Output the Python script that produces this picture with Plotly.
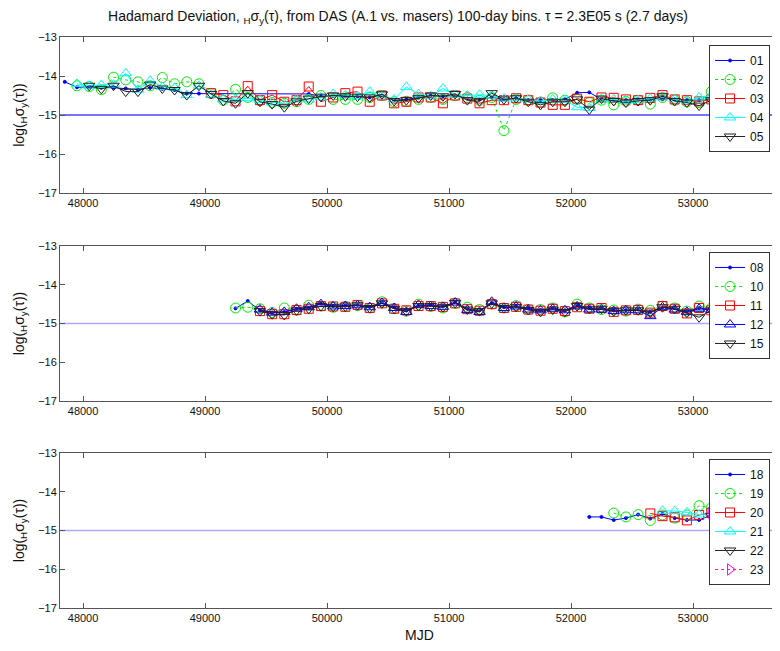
import plotly.graph_objects as go

# ---------------- data ----------------
MJD_BINS = [47850, 47950, 48050, 48150, 48250, 48350, 48450, 48550, 48650, 48750,
            48850, 48950, 49050, 49150, 49250, 49350, 49450, 49550, 49650, 49750,
            49850, 49950, 50050, 50150, 50250, 50350, 50450, 50550, 50650, 50750,
            50850, 50950, 51050, 51150, 51250, 51350, 51450, 51550, 51650, 51750,
            51850, 51950, 52050, 52150, 52250, 52350, 52450, 52550, 52650, 52750,
            52850, 52950, 53050, 53150, 53250]

# panel 1 (start bin, values)
s01_start = 47850
s01 = [-14.15, -14.29, -14.28, -14.30, -14.30, -14.32, -14.35, -14.30, -14.33, -14.36,
       -14.45, -14.45, None, None, None, None, None, None, None, None,
       -14.46, -14.52, -14.50, -14.52, -14.52, -14.55, -14.50, -14.62, -14.60, -14.55,
       -14.50, -14.52, -14.50, -14.58, -14.60, -14.55, -14.60, -14.57, -14.62, -14.62,
       -14.62, -14.60, -14.43, -14.42, -14.60, -14.62, -14.62, -14.60, -14.60, -14.55,
       -14.60, -14.62, -14.62, -14.58, -14.55]
s02_start = 47950
s02 = [-14.25, -14.27, -14.35, -14.03, -14.10, -14.15, -14.25, -14.04, -14.20, -14.15,
       -14.20, -14.45, -14.62, -14.34, -14.55, -14.63, -14.68, -14.70, -14.66, -14.60,
       -14.50, -14.60, -14.60, -14.60, -14.55, -14.50, -14.66, -14.65, -14.60, -14.55,
       -14.60, -14.50, -14.55, -14.62, -14.55, -15.40, -14.60, -14.62, -14.68, -14.56,
       -14.62, -14.60, -14.68, -14.62, -14.74, -14.65, -14.62, -14.72, -14.55, -14.62,
       -14.66, -14.68, -14.40, -14.50]
s03_start = 49050
s03 = [-14.44, -14.49, -14.65, -14.26, -14.62, -14.49, -14.66, -14.62, -14.27, -14.66,
       -14.55, -14.44, -14.40, -14.66, -14.50, -14.70, -14.66, -14.55, -14.55, -14.70,
       -14.50, -14.58, -14.70, -14.62, -14.62, -14.57, -14.62, -14.68, -14.74, -14.74,
       -14.58, -14.66, -14.55, -14.56, -14.60, -14.62, -14.56, -14.49, -14.60, -14.62,
       -14.65, -14.60, -14.55]
s04_start = 47950
s04 = [-14.20, -14.25, -14.23, -14.22, -13.93, -14.35, -14.12, -14.28, -14.30, -14.49,
       -14.25, -14.48, -14.60, -14.60, -14.57, -14.62, -14.68, -14.72, -14.60, -14.60,
       -14.55, -14.46, -14.50, -14.52, -14.40, -14.50, -14.60, -14.28, -14.47, -14.52,
       -14.32, -14.48, -14.50, -14.48, -14.50, -14.58, -14.58, -14.60, -14.64, -14.60,
       -14.62, -14.80, -14.82, -14.60, -14.60, -14.64, -14.62, -14.58, -14.55, -14.60,
       -14.65, -14.55, -14.50, -14.55]
s05_start = 48050
s05 = [-14.25, -14.33, -14.25, -14.40, -14.40, -14.22, -14.32, -14.36, -14.49, -14.25,
       -14.46, -14.64, -14.70, -14.44, -14.66, -14.72, -14.80, -14.65, -14.58, -14.53,
       -14.50, -14.52, -14.53, -14.55, -14.47, -14.64, -14.62, -14.57, -14.50, -14.52,
       -14.46, -14.62, -14.65, -14.44, -14.60, -14.57, -14.66, -14.74, -14.66, -14.66,
       -14.60, -14.86, -14.58, -14.64, -14.68, -14.64, -14.62, -14.52, -14.64, -14.68,
       -14.76, -14.62, -14.60]

# panel 2
s08_start = 49250
s08 = [-14.61, -14.42, -14.66, -14.72, -14.70, -14.62, -14.60, -14.48, -14.55, -14.54,
       -14.52, -14.57, -14.45, -14.58, -14.66, -14.53, -14.52, -14.56, -14.45, -14.62,
       -14.66, -14.48, -14.58, -14.55, -14.60, -14.65, -14.60, -14.66, -14.52, -14.60,
       -14.60, -14.66, -14.66, -14.64, -14.70, -14.58, -14.60, -14.68, -14.60, -14.64]
s10_start = 49250
s10 = [-14.60, -14.58, -14.62, -14.72, -14.60, -14.66, -14.53, -14.55, -14.58, -14.56,
       -14.54, -14.60, -14.44, -14.62, -14.68, -14.50, -14.56, -14.60, -14.48, -14.58,
       -14.64, -14.50, -14.60, -14.54, -14.64, -14.64, -14.60, -14.70, -14.50, -14.60,
       -14.64, -14.65, -14.68, -14.63, -14.66, -14.55, -14.60, -14.68, -14.55, -14.60]
s11_start = 49450
s11 = [-14.68, -14.76, -14.76, -14.65, -14.62, -14.55, -14.56, -14.57, -14.52, -14.60,
       -14.48, -14.62, -14.66, -14.55, -14.55, -14.57, -14.48, -14.63, -14.67, -14.50,
       -14.60, -14.57, -14.64, -14.67, -14.62, -14.68, -14.58, -14.62, -14.60, -14.70,
       -14.66, -14.65, -14.72, -14.55, -14.62, -14.74, -14.60, -14.66]
s12_start = 49450
s12 = [-14.64, -14.72, -14.70, -14.62, -14.58, -14.50, -14.56, -14.55, -14.53, -14.58,
       -14.47, -14.60, -14.70, -14.52, -14.55, -14.57, -14.46, -14.65, -14.70, -14.44,
       -14.60, -14.56, -14.64, -14.66, -14.62, -14.66, -14.56, -14.64, -14.64, -14.68,
       -14.66, -14.66, -14.81, -14.58, -14.64, -14.70, -14.62, -14.65]
s15_start = 49450
s15 = [-14.68, -14.76, -14.78, -14.66, -14.62, -14.55, -14.57, -14.56, -14.53, -14.60,
       -14.48, -14.62, -14.68, -14.55, -14.55, -14.58, -14.47, -14.64, -14.68, -14.48,
       -14.60, -14.57, -14.65, -14.70, -14.64, -14.70, -14.55, -14.62, -14.62, -14.68,
       -14.66, -14.66, -14.72, -14.58, -14.62, -14.72, -14.84, -14.66]

# panel 3
s18_start = 52150
s18 = [-14.65, -14.65, -14.73, -14.68, -14.59, -14.69, -14.57, -14.68, -14.73, -14.73, -14.60]
s19_start = 52350
s19 = [-14.55, -14.65, -14.59, -14.74, -14.60, -14.68, -14.60, -14.36, -14.42]
s20_start = 52650
s20 = [-14.56, -14.63, -14.66, -14.74, -14.60, -14.55]
s21_start = 52750
s21 = [-14.49, -14.50, -14.53, -14.59, -14.55]
s22_start = 53150
s22 = [-14.62, -14.60]
s23_start = 53150
s23 = [-14.55, -14.50]

REF_LEVEL = -15
X_RANGE = [47811, 53705]
Y_RANGE = [-17, -13]
X_TICKS = [48000, 49000, 50000, 51000, 52000, 53000]
Y_TICKS = [-17, -16, -15, -14, -13]

TITLE = ("Hadamard Deviation, <sub>H</sub>σ<sub>y</sub>(τ), from DAS (A.1 vs. masers) "
         "100-day bins. τ = 2.3E05 s (2.7 days)")
YTITLE = "log(<sub>H</sub>σ<sub>y</sub>(τ))"

BLUE, GREEN, RED, CYAN, BLACK, MAGENTA = "#0000ff", "#00ee00", "#ff0000", "#00ffff", "#222222", "#ff00ff"

STYLES = {
    "01": (BLUE, "circle", 3, "solid"), "02": (GREEN, "circle-open", 10, "dot"),
    "03": (RED, "square-open", 9, "solid"), "04": (CYAN, "triangle-up-open", 10, "solid"),
    "05": (BLACK, "triangle-down-open", 10, "solid"),
    "08": (BLUE, "circle", 3, "solid"), "10": (GREEN, "circle-open", 10, "dot"),
    "11": (RED, "square-open", 9, "solid"), "12": (BLUE, "triangle-up-open", 10, "solid"),
    "15": (BLACK, "triangle-down-open", 10, "solid"),
    "18": (BLUE, "circle", 3, "solid"), "19": (GREEN, "circle-open", 10, "dot"),
    "20": (RED, "square-open", 9, "solid"), "21": (CYAN, "triangle-up-open", 10, "solid"),
    "22": (BLACK, "triangle-down-open", 10, "solid"), "23": (MAGENTA, "triangle-right-open", 10, "dot"),
}

PANELS = [
    [("01", s01_start, s01), ("02", s02_start, s02), ("03", s03_start, s03),
     ("04", s04_start, s04), ("05", s05_start, s05)],
    [("08", s08_start, s08), ("10", s10_start, s10), ("11", s11_start, s11),
     ("12", s12_start, s12), ("15", s15_start, s15)],
    [("18", s18_start, s18), ("19", s19_start, s19), ("20", s20_start, s20),
     ("21", s21_start, s21), ("22", s22_start, s22), ("23", s23_start, s23)],
]

# ---------------- figure ----------------
fig = go.Figure()
FONT = "Liberation Sans, Arial, sans-serif"
legend_names = ["legend", "legend2", "legend3"]
axis_ids = [("x", "y"), ("x2", "y2"), ("x3", "y3")]

for p, series in enumerate(PANELS):
    xa, ya = axis_ids[p]
    for name, start, vals in series:
        i0 = MJD_BINS.index(start)
        xs = MJD_BINS[i0:i0 + len(vals)]
        color, sym, size, dash = STYLES[name]
        fig.add_trace(go.Scatter(
            x=xs, y=vals, name=name, mode="lines+markers",
            line=dict(color=color, width=1, dash=dash),
            marker=dict(symbol=sym, size=size, color=color, line=dict(color=color, width=1)),
            connectgaps=True, xaxis=xa, yaxis=ya, legend=legend_names[p]))

# reference level lines
ref_colors = ["rgb(70,70,255)", "rgb(170,170,255)", "rgb(170,170,255)"]
for p, (xa, ya) in enumerate(axis_ids):
    fig.add_shape(type="line", xref=f"{xa} domain", yref=ya, x0=0, x1=1,
                  y0=REF_LEVEL, y1=REF_LEVEL, line=dict(color=ref_colors[p], width=1.5), layer="below")

domains = [[0.7268, 1.0], [0.3625, 0.634], [0.0, 0.2715]]
axis_common = dict(showline=True, linecolor="#555555", linewidth=1, mirror="allticks",
                   ticks="inside", ticklen=5, tickcolor="#555555", showgrid=False, zeroline=False,
                   tickfont=dict(size=11, color="#111111", family=FONT))
layout = dict(
    width=780, height=651,
    margin=dict(l=52, r=9, t=29, b=51, autoexpand=False),
    plot_bgcolor="white", paper_bgcolor="white",
    font=dict(family=FONT, size=12, color="#111111"),
    title=dict(text=TITLE, x=0.5, xanchor="center", y=0.987, yanchor="middle",
               font=dict(size=14, family=FONT)),
)
for p in range(3):
    sfx = "" if p == 0 else str(p + 1)
    layout["xaxis" + sfx] = dict(axis_common, domain=[0, 1], range=X_RANGE, tickvals=X_TICKS,
                                 tickformat="d", anchor="y" + sfx, automargin=False,
                                 title=dict(text="MJD" if p == 2 else "", standoff=6,
                                            font=dict(size=14)))
    layout["yaxis" + sfx] = dict(axis_common, domain=domains[p], range=Y_RANGE, tickvals=Y_TICKS,
                                 anchor="x" + sfx, automargin=False,
                                 title=dict(text=YTITLE, standoff=10, font=dict(size=14)))

leg_tops = [0.986, 0.6235, 0.261]
for p, ln in enumerate(legend_names):
    layout[ln] = dict(x=0.9027, y=leg_tops[p], xanchor="left", yanchor="top",
                      bgcolor="white", bordercolor="#333333", borderwidth=1,
                      font=dict(size=12, family=FONT, color="#111111"),
                      tracegroupgap=0, itemwidth=30)
fig.update_layout(**layout)
fig.write_html("out.html")
